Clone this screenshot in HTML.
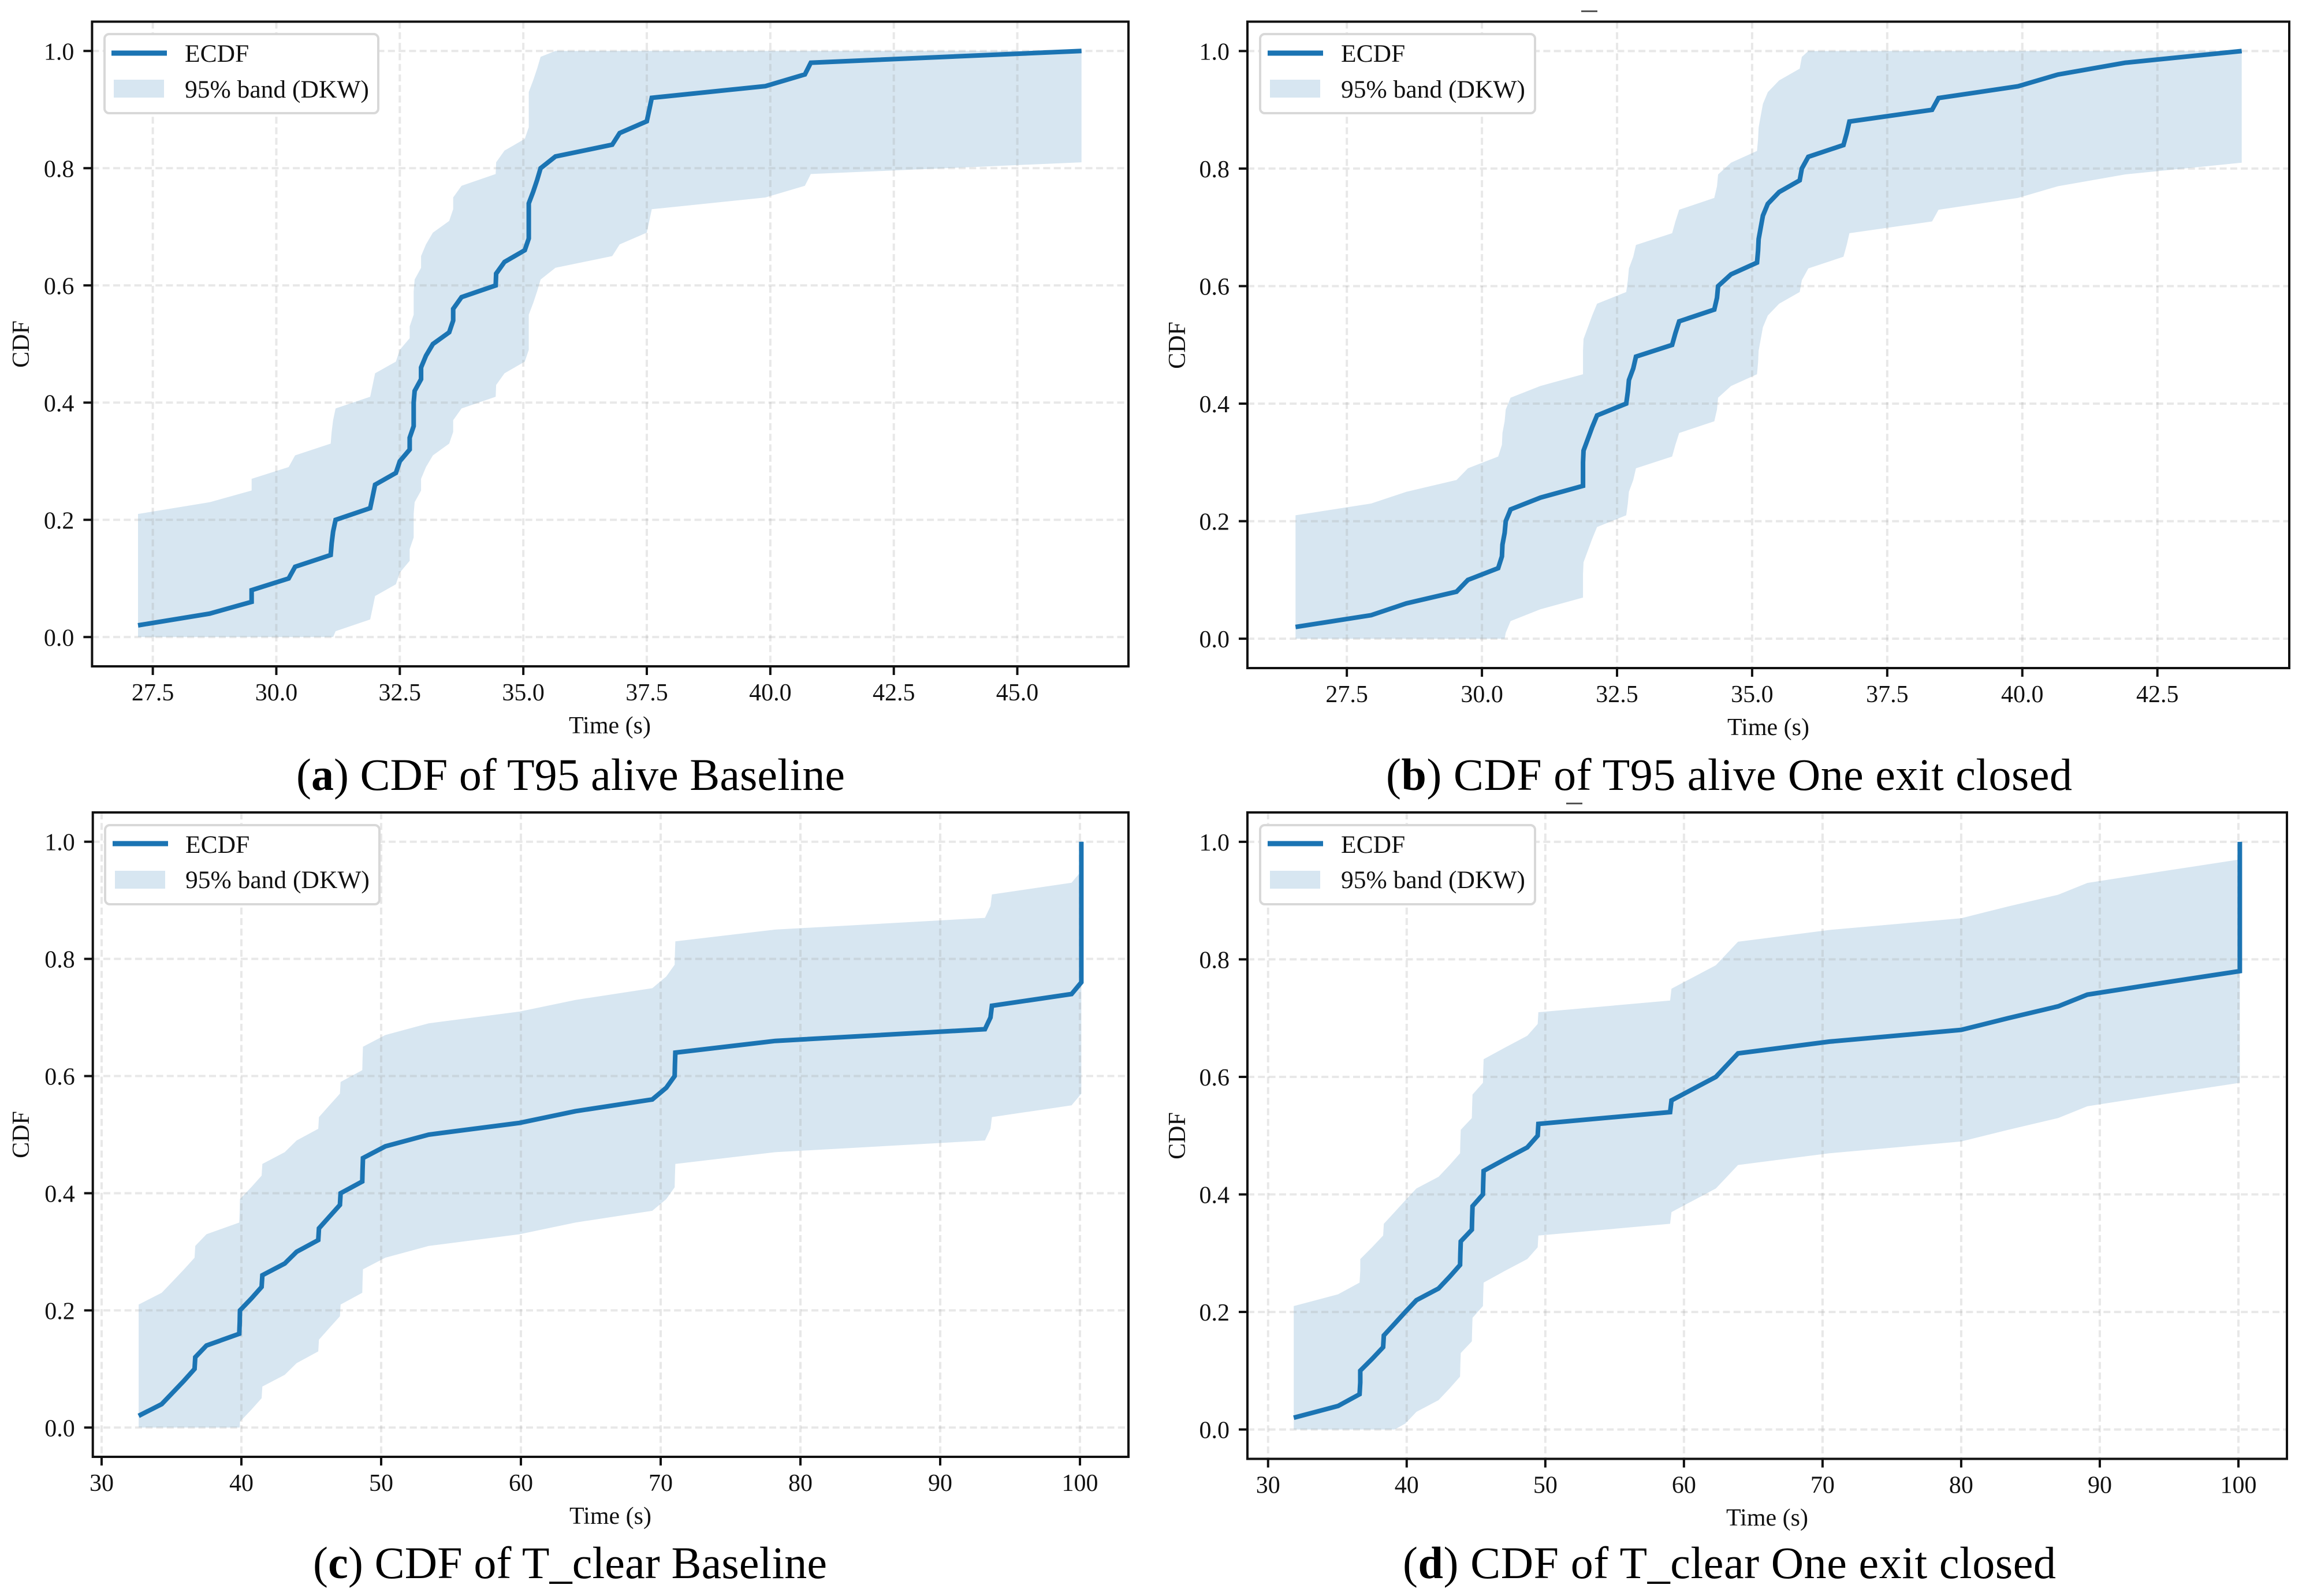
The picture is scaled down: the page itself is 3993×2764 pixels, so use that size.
<!DOCTYPE html>
<html lang="en">
<head>
<meta charset="utf-8">
<title>CDF panels</title>
<style>
  html, body { margin: 0; padding: 0; background: #fff; }
  svg { display: block; }
  text { font-family: "Liberation Serif", "Times New Roman", serif; fill: #111; }
  .tick-text, .axis-text { font-size: 42px; }
  .legend-text { font-size: 43.5px; }
  .caption { font-size: 78px; fill: #000; text-anchor: middle; }
</style>
</head>
<body>
<svg id="figure" xmlns="http://www.w3.org/2000/svg" width="3993" height="2764" viewBox="0 0 3993 2764">
  <rect x="0" y="0" width="3993" height="2764" fill="#fff"/>

  <g id="panel-a">
    <g class="marks"></g>
    <rect x="181" y="59" width="474" height="137" rx="8" fill="#fff" stroke="#d8d8d8" stroke-width="4"/>
    <line x1="193" y1="92" x2="289" y2="92" stroke="#1b74b3" stroke-width="9"/>
    <rect x="197" y="138" width="87" height="31" fill="#d7e6f1"/>
    <text class="legend-text" x="320" y="107">ECDF</text>
    <text class="legend-text" x="320" y="169">95% band (DKW)</text>
    <text class="axis-text" x="1056" y="1270" text-anchor="middle">Time (s)</text>
    <text class="axis-text" transform="translate(50 596) rotate(-90)" text-anchor="middle">CDF</text>
    <text class="caption" x="988" y="1368" textLength="950">(<tspan font-weight="bold">a</tspan>) CDF of T95 alive Baseline</text>
  </g>

  <g id="panel-b">
    <g class="marks"></g>
    <rect x="2182" y="59" width="476" height="137" rx="8" fill="#fff" stroke="#d8d8d8" stroke-width="4"/>
    <line x1="2195" y1="92" x2="2291" y2="92" stroke="#1b74b3" stroke-width="9"/>
    <rect x="2199" y="138" width="87" height="31" fill="#d7e6f1"/>
    <text class="legend-text" x="2322" y="107">ECDF</text>
    <text class="legend-text" x="2322" y="169">95% band (DKW)</text>
    <text class="axis-text" x="3062" y="1273" text-anchor="middle">Time (s)</text>
    <text class="axis-text" transform="translate(2052 598) rotate(-90)" text-anchor="middle">CDF</text>
    <text class="caption" x="2994" y="1368" textLength="1188">(<tspan font-weight="bold">b</tspan>) CDF of T95 alive One exit closed</text>
  </g>

  <g id="panel-c">
    <g class="marks"></g>
    <rect x="182" y="1429" width="475" height="137" rx="8" fill="#fff" stroke="#d8d8d8" stroke-width="4"/>
    <line x1="195" y1="1461" x2="291" y2="1461" stroke="#1b74b3" stroke-width="9"/>
    <rect x="199" y="1508" width="87" height="31" fill="#d7e6f1"/>
    <text class="legend-text" x="321" y="1477">ECDF</text>
    <text class="legend-text" x="321" y="1538">95% band (DKW)</text>
    <text class="axis-text" x="1057" y="2639" text-anchor="middle">Time (s)</text>
    <text class="axis-text" transform="translate(50 1965) rotate(-90)" text-anchor="middle">CDF</text>
    <text class="caption" x="987" y="2733" textLength="890">(<tspan font-weight="bold">c</tspan>) CDF of T_clear Baseline</text>
  </g>

  <g id="panel-d">
    <g class="marks"></g>
    <rect x="2182" y="1429" width="476" height="137" rx="8" fill="#fff" stroke="#d8d8d8" stroke-width="4"/>
    <line x1="2195" y1="1461" x2="2291" y2="1461" stroke="#1b74b3" stroke-width="9"/>
    <rect x="2199" y="1508" width="87" height="31" fill="#d7e6f1"/>
    <text class="legend-text" x="2322" y="1477">ECDF</text>
    <text class="legend-text" x="2322" y="1538">95% band (DKW)</text>
    <text class="axis-text" x="3060" y="2642" text-anchor="middle">Time (s)</text>
    <text class="axis-text" transform="translate(2052 1967) rotate(-90)" text-anchor="middle">CDF</text>
    <text class="caption" x="2994.5" y="2733" textLength="1131">(<tspan font-weight="bold">d</tspan>) CDF of T_clear One exit closed</text>
  </g>

  <rect x="2738" y="18" width="28" height="3" fill="#555"/>
  <rect x="2712" y="1390" width="28" height="3" fill="#555"/>
</svg>

<script>
var ecdfLevels = [
  0.02,0.04,0.06,0.08,0.10,0.12,0.14,0.16,0.18,0.20,
  0.22,0.24,0.26,0.28,0.30,0.32,0.34,0.36,0.38,0.40,
  0.42,0.44,0.46,0.48,0.50,0.52,0.54,0.56,0.58,0.60,
  0.62,0.64,0.66,0.68,0.70,0.72,0.74,0.76,0.78,0.80,
  0.82,0.84,0.86,0.88,0.90,0.92,0.94,0.96,0.98,1.00
];
var dkwEpsilon = 0.19;

var timesA = [
  27.2,28.65,29.5,29.5,30.25,30.38,31.1,31.12,31.15,31.2,
  31.9,31.95,32.0,32.42,32.5,32.7,32.7,32.78,32.78,32.78,
  32.8,32.93,32.93,33.03,33.17,33.5,33.58,33.58,33.75,34.44,
  34.45,34.62,35.03,35.11,35.11,35.11,35.11,35.2,35.28,35.35,
  35.65,36.8,36.95,37.5,37.55,37.6,39.9,40.7,40.82,46.3
];
var timesB = [
  26.55,27.95,28.6,29.53,29.74,30.3,30.37,30.38,30.42,30.44,
  30.53,31.08,31.87,31.87,31.87,31.88,31.96,32.04,32.13,32.67,
  32.7,32.72,32.8,32.85,33.52,33.58,33.65,34.3,34.35,34.37,
  34.61,35.09,35.11,35.12,35.16,35.2,35.29,35.5,35.88,35.92,
  36.04,36.69,36.75,36.8,38.33,38.45,39.92,40.66,41.9,44.06
];
var timesC = [
  32.65,34.3,35.1,35.9,36.65,36.7,37.5,39.85,39.88,39.9,
  40.7,41.45,41.5,43.1,43.95,45.5,45.55,46.3,47.05,47.1,
  48.65,48.67,48.7,50.3,53.4,59.9,63.9,69.4,70.4,71.0,
  71.02,71.05,78.2,93.2,93.6,93.7,99.4,100.1,100.1,100.1,
  100.1,100.1,100.1,100.1,100.1,100.1,100.1,100.1,100.1,100.1
];
var timesD = [
  31.85,35.05,36.6,36.65,36.65,37.5,38.3,38.35,39.13,39.9,
  40.7,42.3,43.1,43.85,43.87,43.9,44.7,44.72,44.75,45.5,
  45.52,45.55,47.1,48.7,49.45,49.5,59.0,59.1,60.7,62.3,
  63.1,63.9,70.5,80.0,83.4,87.0,89.1,94.55,100.1,100.1,
  100.1,100.1,100.1,100.1,100.1,100.1,100.1,100.1,100.1,100.1
];

var xTicksShort = [27.5,30,32.5,35,37.5,40,42.5];
var xTickLabelsShort = ["27.5","30.0","32.5","35.0","37.5","40.0","42.5"];
var xTicksLong = [27.5,30,32.5,35,37.5,40,42.5,45];
var xTickLabelsLong = ["27.5","30.0","32.5","35.0","37.5","40.0","42.5","45.0"];
var xTicksClear = [30,40,50,60,70,80,90,100];
var xTickLabelsClear = ["30","40","50","60","70","80","90","100"];
var yTicks = [0,0.2,0.4,0.6,0.8,1];
var yTickLabels = ["0.0","0.2","0.4","0.6","0.8","1.0"];
var yDomain = [-0.05,1.05];

var SVG_NS = "http://www.w3.org/2000/svg";

function makeEl(tag, parent) {
  var el = document.createElementNS(SVG_NS, tag);
  parent.appendChild(el);
  return el;
}

function drawPanel(id, box, xDomain, times, levels, xTicks, xTickLabels) {
  var root = document.querySelector("#panel-" + id + " .marks");
  function xScale(v) {
    return box.left + (v - xDomain[0]) / (xDomain[1] - xDomain[0]) * (box.right - box.left);
  }
  function yScale(v) {
    return box.bottom - (v - yDomain[0]) / (yDomain[1] - yDomain[0]) * (box.bottom - box.top);
  }

  var upper = [];
  var lower = [];
  var linePts = [];
  times.forEach(function (t, i) {
    var level = levels[i];
    linePts.push(xScale(t).toFixed(1) + "," + yScale(level).toFixed(1));
    upper.push(xScale(t).toFixed(1) + "," + yScale(Math.min(level + dkwEpsilon, 1)).toFixed(1));
    lower.unshift(xScale(t).toFixed(1) + "," + yScale(Math.max(level - dkwEpsilon, 0)).toFixed(1));
  });

  var band = makeEl("polygon", root);
  
  
  band.setAttribute("points", upper.concat(lower).join(" "));
  band.setAttribute("fill", "#d7e6f1");

  xTicks.forEach(function (v) {
    var grid = makeEl("line", root);
    
    
    grid.setAttribute("x1", xScale(v));
    grid.setAttribute("x2", xScale(v));
    grid.setAttribute("y1", box.top);
    grid.setAttribute("y2", box.bottom);
    grid.setAttribute("stroke", "rgba(160,160,160,0.24)");
    grid.setAttribute("stroke-width", "4");
    grid.setAttribute("stroke-dasharray", "12 6.3");
  });
  yTicks.forEach(function (v) {
    var grid = makeEl("line", root);
    
    
    grid.setAttribute("x1", box.left);
    grid.setAttribute("x2", box.right);
    grid.setAttribute("y1", yScale(v));
    grid.setAttribute("y2", yScale(v));
    grid.setAttribute("stroke", "rgba(160,160,160,0.24)");
    grid.setAttribute("stroke-width", "4");
    grid.setAttribute("stroke-dasharray", "12 6.3");
  });

  var line = makeEl("polyline", root);
  
  
  line.setAttribute("points", linePts.join(" "));
  line.setAttribute("fill", "none");
  line.setAttribute("stroke", "#1b74b3");
  line.setAttribute("stroke-width", "8");
  line.setAttribute("stroke-linejoin", "miter");

  var frame = makeEl("rect", root);
  
  
  frame.setAttribute("x", box.left);
  frame.setAttribute("y", box.top);
  frame.setAttribute("width", box.right - box.left);
  frame.setAttribute("height", box.bottom - box.top);
  frame.setAttribute("fill", "none");
  frame.setAttribute("stroke", "#111");
  frame.setAttribute("stroke-width", "4");

  xTicks.forEach(function (v, i) {
    var tick = makeEl("line", root);
    
    
    tick.setAttribute("x1", xScale(v));
    tick.setAttribute("x2", xScale(v));
    tick.setAttribute("y1", box.bottom);
    tick.setAttribute("y2", box.bottom + 15);
    tick.setAttribute("stroke", "#111");
    tick.setAttribute("stroke-width", "4");

    var label = makeEl("text", root);
    
    
    label.setAttribute("class", "tick-text");
    label.setAttribute("x", xScale(v));
    label.setAttribute("y", box.bottom + 59);
    label.setAttribute("text-anchor", "middle");
    label.textContent = xTickLabels[i];
  });
  yTicks.forEach(function (v, i) {
    var tick = makeEl("line", root);
    
    
    tick.setAttribute("x1", box.left - 15);
    tick.setAttribute("x2", box.left);
    tick.setAttribute("y1", yScale(v));
    tick.setAttribute("y2", yScale(v));
    tick.setAttribute("stroke", "#111");
    tick.setAttribute("stroke-width", "4");

    var label = makeEl("text", root);
    
    
    label.setAttribute("class", "tick-text");
    label.setAttribute("x", box.left - 31);
    label.setAttribute("y", yScale(v) + 15);
    label.setAttribute("text-anchor", "end");
    label.textContent = yTickLabels[i];
  });
}

drawPanel("a", {left:159.4,right:1954,top:37.5,bottom:1154}, [26.27,47.25], timesA, ecdfLevels, xTicksLong, xTickLabelsLong);
drawPanel("b", {left:2160,right:3964,top:37.5,bottom:1157}, [25.66,44.94], timesB, ecdfLevels, xTicksShort, xTickLabelsShort);
drawPanel("c", {left:160.7,right:1954,top:1407,bottom:2523}, [29.37,103.47], timesC, ecdfLevels, xTicksClear, xTickLabelsClear);
drawPanel("d", {left:2160,right:3960,top:1407,bottom:2526.5}, [28.51,103.5], timesD, ecdfLevels, xTicksClear, xTickLabelsClear);
</script>
</body>
</html>
